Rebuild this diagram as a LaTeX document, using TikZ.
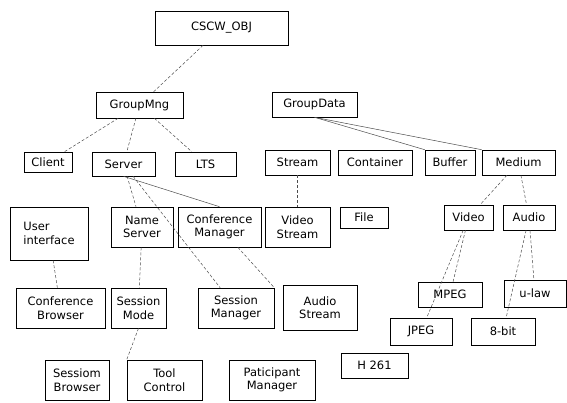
\documentclass[tikz,border=0pt]{standalone}
\usepackage{fontspec}
\setmainfont{DejaVu Sans}
\usetikzlibrary{calc}

\begin{document}
\begin{tikzpicture}[x=1pt,y=-1pt,
  box/.style={draw,line width=0.6pt,inner sep=1pt,align=center,
    font=\fontsize{11.5}{13.5}\selectfont},
  link/.style={densely dashed,gray!60!black,line width=0.5pt},
  rel/.style={gray!60!black,line width=0.5pt}]
  \useasboundingbox (0,0) rectangle (567,403);
  % class boxes: name / x / y / width / height / text
  \foreach \n/\x/\y/\w/\h/\t in {
      cscw/221.5/28/133/34/{CSCW\_OBJ},
      gmng/139.5/105/87/26/{GroupMng},
      gdata/314.5/104.5/85/25/{GroupData},
      client/48/162/48/20/{Client},
      server/123.5/164/63/24/{Server},
      lts/205.5/164/61/24/{LTS},
      stream/297.5/162.5/65/25/{Stream},
      container/375/162.5/74/25/{Container},
      buffer/450/162.5/50/25/{Buffer},
      medium/518.5/162.5/73/25/{Medium},
      names/142/227/62/40/{Name\\Server},
      confm/219.5/227/83/40/{Conference\\Manager},
      vstream/297.5/227/65/40/{Video\\Stream},
      file/364/217.5/48/21/{File},
      video/468.5/217.5/49/25/{Video},
      audio/529/217.5/52/25/{Audio},
      confb/60.5/308/89/40/{Conference\\Browser},
      sessmode/138.5/308/55/40/{Session\\Mode},
      sessmgr/236/308/76/40/{Session\\Manager},
      astream/320/307.5/74/45/{Audio\\Stream},
      mpeg/450/294.5/64/25/{MPEG},
      ulaw/535/293.5/62/27/{u-law},
      jpeg/421/331.5/62/27/{JPEG},
      eightbit/503/331.5/64/27/{8-bit},
      sessb/77/380/64/40/{Sessiom\\Browser},
      tool/164.5/380/75/40/{Tool\\Control},
      partm/272/380/86/40/{Paticipant\\Manager},
      h261/374.5/365.5/67/25/{H 261}}
    \node[box,minimum width=\w,minimum height=\h] (\n) at (\x,\y) {\t};
  \node[box,align=left,minimum width=78,minimum height=53] (user) at (49,233.5)
    {User\\interface};
  % links
  \draw[link] (cscw) -- (gmng);
  \draw[link] (gmng) -- (client);
  \draw[link] (gmng) -- (server);
  \draw[link] (gmng) -- (lts);
  \draw[rel] (gdata.south) -- (buffer.north west);
  \draw[rel] (gdata.south) -- (medium.north west);
  \draw[link] (stream) -- (vstream);
  \draw[link] (server) -- (names);
  \draw[rel] (server.south) -- (confm.north);
  \draw[link] (server) -- (sessmgr);
  \draw[link] (names) -- (sessmode);
  \draw[link] (confm) -- (sessmgr.north east);
  \draw[link] (user) -- (confb);
  \draw[link] (sessmode.south) -- (tool.north west);
  \draw[link] (medium) -- (video);
  \draw[link] (medium) -- (audio);
  \draw[link] (video) -- (mpeg);
  \draw[link] (video) -- (jpeg);
  \draw[link] (audio) -- (ulaw);
  \draw[link] (audio) -- (eightbit);
\end{tikzpicture}
\end{document}
